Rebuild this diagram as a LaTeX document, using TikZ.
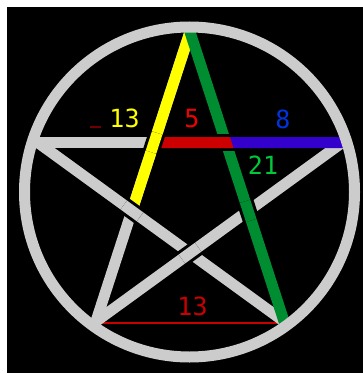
\documentclass[tikz,border=0pt]{standalone}
\usepackage{fontspec}
\newfontfamily\digitfont{DejaVu Sans Mono}
\usetikzlibrary{calc}
\definecolor{ringgray}{RGB}{204,204,204}
\definecolor{yellowc}{RGB}{255,255,0}
\definecolor{greenc}{RGB}{0,140,48}
\definecolor{redbar}{RGB}{204,0,0}
\definecolor{bluebar}{RGB}{51,0,204}
\definecolor{redtext}{RGB}{240,0,0}
\definecolor{bluetext}{RGB}{0,51,220}
\definecolor{greentext}{RGB}{0,200,60}
\definecolor{darkredc}{RGB}{200,0,0}
\definecolor{dimred}{RGB}{110,0,0}
\tikzset{
  starline/.style={line width=11pt, line cap=butt},
  casing/.style={line width=17pt, draw=black, line cap=butt},
  piece/.style={line width=11pt, line cap=butt},
  lbl/.style={font=\digitfont\fontsize{25}{25}\selectfont, inner sep=0pt}
}
\begin{document}
\begin{tikzpicture}[x=1pt,y=-1pt]
\useasboundingbox (0,0) rectangle (363,374);
\fill[white] (0,0) rectangle (363,374);
\fill[black] (7,7) rectangle (363,373);
% star vertices
\coordinate (T) at (190,32);
\coordinate (L) at (37.83,142.56);
\coordinate (R) at (342.17,142.56);
\coordinate (BL) at (95.95,321.44);
\coordinate (BR) at (284.05,321.44);
% inner crossings
\coordinate (P126) at (intersection of T--BL and L--R);
\coordinate (P54) at (intersection of T--BR and L--R);
\coordinate (P198) at (intersection of T--BL and L--BR);
\coordinate (P342) at (intersection of T--BR and BL--R);
\coordinate (P270) at (intersection of L--BR and BL--R);
% bottom thin red line
\coordinate (b1) at ($(BL)+(0,1.3)$);
\coordinate (b2) at ($(BR)+(0,1.3)$);
\draw[darkredc, line width=2pt] (b1) -- (b2);
% base gray lines
\draw[starline, ringgray, shorten <=-4pt, shorten >=-4pt] (L) -- (R);
\draw[starline, ringgray, shorten <=-4pt, shorten >=-4pt] (T) -- (BL);
\draw[starline, ringgray, shorten <=-4pt, shorten >=-4pt] (L) -- (BR);
\draw[starline, ringgray, shorten <=-4pt, shorten >=-4pt] (BL) -- (R);
% coloured segments
\draw[starline, yellowc, shorten <=-4pt] (T) -- (P198);
\draw[starline, greenc, shorten <=-4pt, shorten >=-4pt] (T) -- (BR);
% bar over green
\draw[casing] ($(P54)+(-12,0)$) -- ($(P54)+(12,0)$);
\draw[starline, bluebar, shorten >=-3pt] (P54) -- (R);
\fill[redbar] ($(P126)+(-4,-5.5)$) -- ($(P54)+(4,-5.5)$) -- ($(P54)+(7.6,5.5)$) -- ($(P126)+(-4,5.5)$) -- cycle;
% yellow over bar
\draw[casing] ($(P126)!10pt!(T)$) -- ($(P126)!10pt!(BL)$);
\draw[piece, yellowc] ($(P126)!10pt!(T)$) -- ($(P126)!10pt!(BL)$);
% gray L-BR over T-BL
\draw[casing] ($(P198)!10pt!(L)$) -- ($(P198)!10pt!(BR)$);
\draw[piece, ringgray] ($(P198)!10pt!(L)$) -- ($(P198)!10pt!(BR)$);
% gray BL-R over L-BR
\draw[casing] ($(P270)!10pt!(BL)$) -- ($(P270)!10pt!(R)$);
\draw[piece, ringgray] ($(P270)!10pt!(BL)$) -- ($(P270)!10pt!(R)$);
% green over BL-R
\draw[casing] ($(P342)!10pt!(T)$) -- ($(P342)!10pt!(BR)$);
\draw[piece, greenc] ($(P342)!10pt!(T)$) -- ($(P342)!10pt!(BR)$);
% ring
\coordinate (C) at (189.5,192);
\draw[ringgray, line width=11pt] (C) circle (165pt);
% small dash
\coordinate (d1) at (90,127);
\coordinate (d2) at (101,127);
\draw[dimred, line width=1.2pt] (d1) -- (d2);
% labels
\node[lbl, text=yellowc] (l13a) at (124.5,118.5) {13};
\node[lbl, text=redtext] (l5) at (192,118.5) {5};
\node[lbl, text=bluetext] (l8) at (283,119) {8};
\node[lbl, text=greentext] (l21) at (263,165) {21};
\node[lbl, text=darkredc] (l13b) at (192.5,306) {13};
\end{tikzpicture}
\end{document}
